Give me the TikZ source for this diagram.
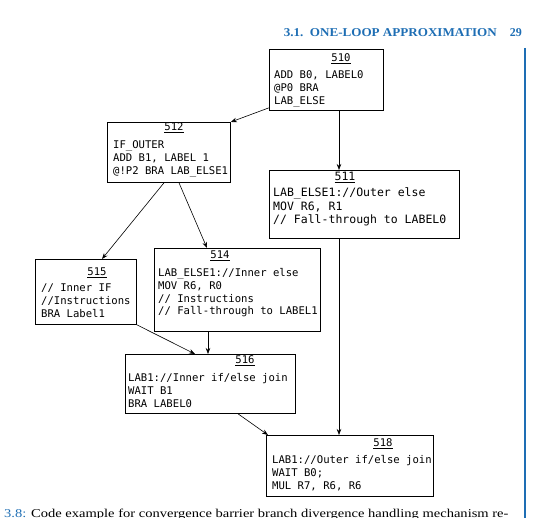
\documentclass[tikz,border=0pt]{standalone}
\usepackage{fontspec}
\setmainfont{Liberation Serif}
\setmonofont{DejaVu Sans Mono}
\usetikzlibrary{calc,arrows.meta}
\definecolor{hdrblue}{RGB}{30,110,180}
\tikzset{
  box/.style={draw, line width=0.8pt, inner sep=0pt, anchor=north west},
  code/.style={anchor=base west, inner sep=0pt, font=\ttfamily\fontsize{10.6}{12.6}\selectfont},
  bigcode/.style={anchor=base west, inner sep=0pt, font=\ttfamily\fontsize{11.5}{13.2}\selectfont},
  ttl/.style={anchor=base, inner sep=0pt, font=\ttfamily\fontsize{10.6}{12.6}\selectfont},
  conn/.style={draw, line width=0.6pt, -{Stealth[length=6pt,width=4.5pt]}},
}
\newcommand{\codelines}[1]{\begin{tabular}[t]{@{}l@{}}#1\end{tabular}}
\begin{document}
\begin{tikzpicture}[x=1pt,y=-1pt]
\path[use as bounding box] (0,0) rectangle (539,518);
\clip (0,0) rectangle (539,518);
% header
\node[anchor=base east, inner sep=0pt, text=hdrblue, font=\bfseries\fontsize{12}{14}\selectfont] (hdr) at (497,37) {\scalebox{1.09}[1]{3.1.\enspace ONE-LOOP APPROXIMATION}};
\node[anchor=base east, inner sep=0pt, text=hdrblue, font=\bfseries\fontsize{12}{14}\selectfont] (pg) at (522,37) {29};
\coordinate (vtop) at (525,48);
\coordinate (vbot) at (525,518);
\draw[hdrblue, line width=1.2pt] (vtop) -- (vbot);
% boxes
\node[box, minimum width=114, minimum height=61] (b510) at (269,49) {};
\node[ttl] (t510) at (341,62) {\underline{510}};
\node[code] (c510) at (274,79) {\codelines{ADD B0, LABEL0\\@P0 BRA\\LAB\_ELSE}};

\node[box, minimum width=123, minimum height=60] (b512) at (107,122) {};
\node[ttl] (t512) at (174,131) {\underline{512}};
\node[code] (c512) at (113,149) {\codelines{IF\_OUTER\\ADD B1, LABEL 1\\@!P2 BRA LAB\_ELSE1}};

\node[box, minimum width=190, minimum height=68] (b511) at (269,170) {};
\node[ttl, font=\ttfamily\fontsize{11.5}{13.2}\selectfont] (t511) at (345,181) {\underline{511}};
\node[bigcode] (c511) at (273,197) {\codelines{LAB\_ELSE1://Outer else\\MOV R6, R1\\// Fall-through to LABEL0}};

\node[box, minimum width=101, minimum height=65] (b515) at (35,259) {};
\node[ttl] (t515) at (97,276) {\underline{515}};
\node[code] (c515) at (41,292) {\codelines{// Inner IF\\//Instructions\\BRA Label1}};

\node[box, minimum width=166, minimum height=83] (b514) at (154,248) {};
\node[ttl] (t514) at (220,259) {\underline{514}};
\node[code] (c514) at (158,277) {\codelines{LAB\_ELSE1://Inner else\\MOV R6, R0\\// Instructions\\// Fall-through to LABEL1}};

\node[box, minimum width=170, minimum height=59] (b516) at (125,354) {};
\node[ttl] (t516) at (245,364) {\underline{516}};
\node[code] (c516) at (128,382) {\codelines{LAB1://Inner if/else join\\WAIT B1\\BRA LABEL0}};

\node[box, minimum width=167, minimum height=61] (b518) at (266,435) {};
\node[ttl] (t518) at (383,447) {\underline{518}};
\node[code] (c518) at (272,464) {\codelines{LAB1://Outer if/else join\\WAIT B0;\\MUL R7, R6, R6}};

% connectors
\draw[conn] ($(b510.south west)+(0,-3)$) -- (b512.north east);
\draw[conn] ($(b510.south west)+(70,0)$) -- ($(b511.north west)+(70,0)$);
\draw[conn] ($(b512.south west)+(57,0)$) -- ($(b515.north west)+(67,0)$);
\draw[conn] ($(b512.south west)+(72,0)$) -- ($(b514.north west)+(53,0)$);
\draw[conn] (b515.south east) -- ($(b516.north west)+(70,0)$);
\draw[conn] ($(b514.south west)+(54,0)$) -- ($(b516.north west)+(83,0)$);
\draw[conn] ($(b516.south west)+(113,0)$) -- ($(b518.north west)+(2,0)$);
\draw[conn] ($(b511.south west)+(70,0)$) -- ($(b518.north west)+(73,0)$);
% caption
\node[anchor=base west, inner sep=0pt, font=\fontsize{12}{14}\selectfont] (cap) at (4,518) {\scalebox{1.21}[1]{\textcolor{hdrblue}{3.8:} Code example for convergence barrier branch divergence handling mechanism re-}};
\end{tikzpicture}
\end{document}
